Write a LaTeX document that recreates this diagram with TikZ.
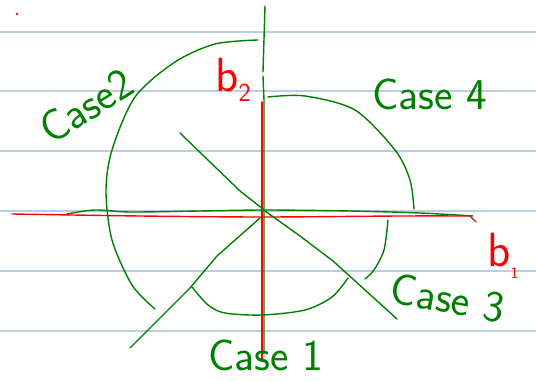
\documentclass[tikz,border=0pt]{standalone}
\usepackage{fontspec}
\usepackage{tikz}
\definecolor{penG}{RGB}{0,128,0}
\definecolor{penR}{RGB}{255,0,0}
\definecolor{ruleB}{RGB}{184,206,226}
\begin{document}
\begin{tikzpicture}[
    x=1pt, y=-1pt,
    ruling/.style={draw=ruleB, line width=1.2pt},
    ink/.style={draw=penG, line width=1.4pt, line cap=round, line join=round},
    axis/.style={draw=penR, line width=1.4pt, line cap=round, line join=round},
    caselbl/.style={text=penG, font=\sffamily\fontsize{44}{44}\selectfont, inner sep=0pt},
    axlbl/.style={text=penR, font=\sffamily\fontsize{48}{48}\selectfont, inner sep=0pt}
]
\useasboundingbox (0,0) rectangle (536,382);
\fill[white] (0,0) rectangle (536,382);
% ruled paper
\foreach \yy in {32,91,151,211,271,331}
  \draw[ruling] (0,\yy) -- (536,\yy);
\fill[penR] (17,14) circle (1.4);

% axes
\coordinate (O) at (263,213);
\draw[axis] plot[smooth] coordinates {(12,214) (140,216) (263,217) (400,216) (470,216)} -- (476,222);
\draw[axis] (262,102) -- (262,359);
\node[axlbl] (b2) at (233,80) {b\raisebox{-10pt}{\fontsize{26}{26}\selectfont 2}};
\node[axlbl] (b1) at (503,256) {b\raisebox{-12pt}{\fontsize{16}{16}\selectfont 1}};

% green lines
\draw[ink] plot[smooth] coordinates {(67,214) (95,210) (130,212) (200,211) (265,210) (350,211) (420,213) (473,216)};
\draw[ink] (265,6) -- (263,72);
\draw[ink] (263,76) -- (264,100) -- (264,354);
\draw[ink] (180,133) -- (240,191) -- (263,209);
\draw[ink] (265,211) -- (300,236) -- (333,261) -- (397,319);
\draw[ink] (260,218) -- (217,256) -- (190,288) -- (130,348);

% region arcs
\draw[ink] plot[smooth] coordinates {(258,40) (215,44) (175,62) (135,97) (112,150) (106,191) (112,240) (132,285) (155,309)};
\draw[ink] plot[smooth] coordinates {(268,97) (305,96) (355,110) (395,150) (410,180) (414,209)};
\draw[ink] plot[smooth] coordinates {(388,220) (384,250) (374,270) (365,279)};
\draw[ink] plot[smooth] coordinates {(192,287) (208,305) (225,313) (262,315) (305,310) (332,297) (348,278)};

% labels
\node[caselbl, rotate=32] (c2) at (86,106) {Case2};
\node[caselbl] (c4) at (430,94) {Case 4};
\node[caselbl, rotate=-10] (c3) at (448,298) {Case 3};
\node[caselbl] (c1) at (266,355) {Case 1};
\end{tikzpicture}
\end{document}
